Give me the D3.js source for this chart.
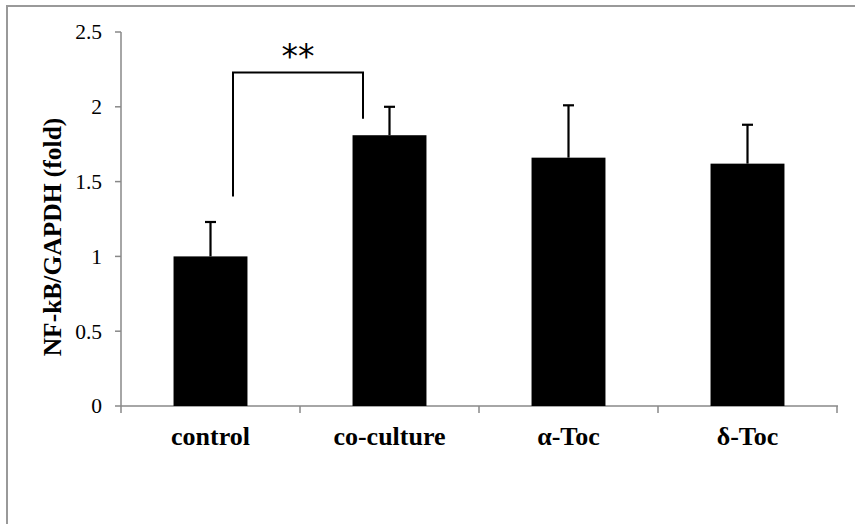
<!DOCTYPE html>
<html><head><meta charset="utf-8">
<script src="https://cdn.jsdelivr.net/npm/d3@7"></script>
<style>body{margin:0;background:#fff}svg{display:block}</style>
</head><body>
<script>
const categories = ["control", "co-culture", "α-Toc", "δ-Toc"];
const values = [1.0, 1.81, 1.66, 1.62];
const errors = [0.23, 0.19, 0.35, 0.26];
const yTicks = [0, 0.5, 1, 1.5, 2, 2.5];
const yTickLabels = ["0", "0.5", "1", "1.5", "2", "2.5"];
const yLabel = "NF-kB/GAPDH (fold)";
const sig = {from: "control", to: "co-culture", level: 2.23, fromBottom: 1.4, toBottom: 1.92, label: "**"};

const W = 855, H = 524;
const svg = d3.select("body").append("svg").attr("width", W).attr("height", H);
const serif = "'Liberation Serif','Times New Roman',serif";

// outer frame (left and top edges visible)
svg.append("path").attr("d", `M7,${H} L7,6 L${W},6`).attr("fill", "none")
  .attr("stroke", "#999").attr("stroke-width", 2);

const x = d3.scaleBand().domain(categories).range([121, 837]).padding(0);
const y = d3.scaleLinear().domain([0, 2.5]).range([406, 32]);
const barW = x.bandwidth() * 0.413;

// y axis
svg.append("line").attr("x1", 121).attr("x2", 121).attr("y1", y(2.5)).attr("y2", y(0))
  .attr("stroke", "#888").attr("stroke-width", 1.5);
yTicks.forEach((t, i) => {
  svg.append("line").attr("x1", 115).attr("x2", 121).attr("y1", y(t)).attr("y2", y(t))
    .attr("stroke", "#888").attr("stroke-width", 1.5);
  svg.append("text").attr("x", 102).attr("y", y(t)).attr("dy", "0.34em")
    .attr("text-anchor", "end").attr("font-family", serif).attr("font-size", 21.5)
    .attr("fill", "#000").text(yTickLabels[i]);
});

// x axis
svg.append("line").attr("x1", 121).attr("x2", 838).attr("y1", y(0)).attr("y2", y(0))
  .attr("stroke", "#888").attr("stroke-width", 1.5);
const bounds = categories.map(c => x(c)).concat([x(categories[categories.length-1]) + x.bandwidth()]);
bounds.forEach(b => {
  svg.append("line").attr("x1", b).attr("x2", b).attr("y1", y(0)).attr("y2", y(0) + 7)
    .attr("stroke", "#888").attr("stroke-width", 1.5);
});
categories.forEach(c => {
  svg.append("text").attr("x", x(c) + x.bandwidth()/2).attr("y", 445)
    .attr("text-anchor", "middle").attr("font-family", serif).attr("font-weight", "bold")
    .attr("font-size", 26).attr("fill", "#000").text(c);
});

// bars
svg.selectAll("rect.bar").data(categories).enter().append("rect")
  .attr("x", c => x(c) + x.bandwidth()/2 - barW/2)
  .attr("width", barW)
  .attr("y", (c, i) => y(values[i]))
  .attr("height", (c, i) => y(0) - y(values[i]))
  .attr("fill", "#000");

// error bars
categories.forEach((c, i) => {
  const cx = x(c) + x.bandwidth()/2;
  const top = y(values[i] + errors[i]);
  svg.append("line").attr("x1", cx).attr("x2", cx).attr("y1", y(values[i])).attr("y2", top)
    .attr("stroke", "#000").attr("stroke-width", 2.2);
  svg.append("line").attr("x1", cx - 5.5).attr("x2", cx + 5.5).attr("y1", top).attr("y2", top)
    .attr("stroke", "#000").attr("stroke-width", 2.2);
});

// significance bracket
const xl = x(sig.from) + x.bandwidth()/2 + 22.5;
const xr = x(sig.to) + x.bandwidth()/2 - 26.5;
svg.append("path")
  .attr("d", `M${xl},${y(sig.fromBottom)} L${xl},${y(sig.level)} L${xr},${y(sig.level)} L${xr},${y(sig.toBottom)}`)
  .attr("fill", "none").attr("stroke", "#000").attr("stroke-width", 2);
svg.append("text").attr("x", (xl + xr)/2).attr("y", 68)
  .attr("text-anchor", "middle").attr("font-family", "'DejaVu Sans',sans-serif")
  .attr("font-size", 33).attr("fill", "#000").text(sig.label);

// y label
svg.append("text").attr("transform", `translate(61,237) rotate(-90)`)
  .attr("text-anchor", "middle").attr("font-family", serif).attr("font-weight", "bold")
  .attr("font-size", 25.5).attr("fill", "#000").text(yLabel);
</script>
</body></html>
